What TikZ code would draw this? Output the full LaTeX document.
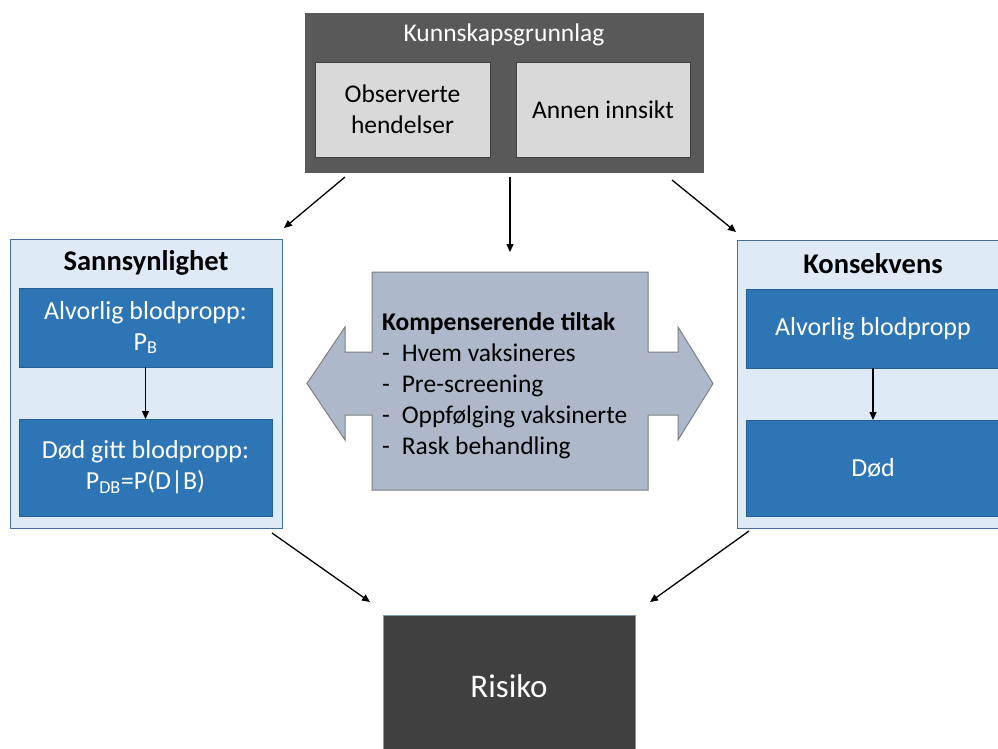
\documentclass[tikz,border=0pt]{standalone}
\usepackage{fontspec}
\setmainfont{Carlito}
\usetikzlibrary{arrows.meta}
\definecolor{darkbox}{HTML}{595959}
\definecolor{risikobox}{HTML}{404040}
\definecolor{lightgray}{HTML}{D9D9D9}
\definecolor{panelblue}{HTML}{DEEBF7}
\definecolor{panelborder}{HTML}{41719C}
\definecolor{bluebox}{HTML}{2E75B6}
\definecolor{centerfill}{HTML}{ADB9CA}
\definecolor{centerborder}{HTML}{7F7F7F}
\tikzset{
  every node/.style={inner sep=0pt, outer sep=0pt},
  basefont/.style={font=\fontsize{25.5}{31}\selectfont},
  outerbox/.style={fill=darkbox, draw=none},
  graybox/.style={fill=lightgray, draw=risikobox, line width=0.8pt, basefont, align=center},
  panel/.style={fill=panelblue, draw=panelborder, line width=0.9pt},
  bluefill/.style={fill=bluebox, draw=bluebox!80!black, line width=0.5pt, text=white, font=\fontsize{26}{31}\selectfont, align=center},
  titletext/.style={font=\fontsize{28.5}{34}\selectfont\bfseries},
  conn/.style={-{Triangle[length=8pt,width=7pt]}, line width=1.3pt, black},
}
\begin{document}
\begin{tikzpicture}[x=1pt,y=-1pt]
\clip (0,0) rectangle (998,749);
\fill[white] (0,0) rectangle (998,749);

% top knowledge box
\node[outerbox, minimum width=399pt, minimum height=160pt] (top) at (504.5,93) {};
\node[basefont, text=white] (toptitle) at (504,35) {Kunnskapsgrunnlag};
\node[graybox, minimum width=175pt, minimum height=95pt] (obs) at (402.5,109.5) {Observerte\\hendelser};
\node[graybox, minimum width=174pt, minimum height=95pt] (annen) at (603,109.5) {Annen innsikt};

% left panel
\node[panel, minimum width=272pt, minimum height=289pt] (left) at (146,383.5) {};
\node[titletext] (lefttitle) at (146,263) {Sannsynlighet};
\node[bluefill, minimum width=253pt, minimum height=79pt] (lb1) at (145.5,327.5) {Alvorlig blodpropp:\\P\textsubscript{B}};
\node[bluefill, minimum width=253pt, minimum height=97pt] (lb2) at (145.5,467.5) {Død gitt blodpropp:\\P\textsubscript{DB}=P(D|B)};
\draw[conn] (lb1.south) -- (lb2.north);

% right panel
\node[panel, minimum width=272pt, minimum height=288pt] (right) at (873,384) {};
\node[titletext] (righttitle) at (873,264) {Konsekvens};
\node[bluefill, minimum width=254pt, minimum height=79pt] (rb1) at (873,328.5) {Alvorlig blodpropp};
\node[bluefill, minimum width=254pt, minimum height=96pt] (rb2) at (873,468) {Død};
\draw[conn] (rb1.south) -- (rb2.north);

% center double arrow shape
\draw[fill=centerfill, draw=centerborder, line width=1pt]
  (372,272) -- (648,272) -- (648,352) -- (678,352) -- (678,327) -- (713,383.5)
  -- (678,440) -- (678,415) -- (648,415) -- (648,490) -- (372,490) -- (372,415)
  -- (345,415) -- (345,440) -- (307,383.5) -- (345,327) -- (345,352) -- (372,352) -- cycle;
\node[minimum width=276pt, minimum height=218pt] (center) at (510,381) {};
\node[basefont, anchor=north west, align=left] (tiltak) at (382,313)
  {\textbf{Kompenserende tiltak}\\
   -\hspace{12pt}Hvem vaksineres\\
   -\hspace{12pt}Pre-screening\\
   -\hspace{12pt}Oppfølging vaksinerte\\
   -\hspace{12pt}Rask behandling};

% risiko
\node[fill=risikobox, draw=panelborder!70, line width=0.6pt, minimum width=252pt, minimum height=142pt] (risiko) at (509,686) {};
\node[text=white, font=\fontsize{33}{40}\selectfont] (risikotext) at (509,686) {Risiko};

% connectors
\coordinate (s1) at (345,177);
\coordinate (e1) at (284,228);
\coordinate (s2) at (510,177);
\coordinate (e2) at (510,252);
\coordinate (s3) at (672,180);
\coordinate (e3) at (736,232);
\coordinate (s4) at (272,533);
\coordinate (e4) at (370,602);
\coordinate (s5) at (749,531);
\coordinate (e5) at (650,602);
\draw[conn] (s1) -- (e1);
\draw[conn] (s2) -- (e2);
\draw[conn] (s3) -- (e3);
\draw[conn] (s4) -- (e4);
\draw[conn] (s5) -- (e5);
\end{tikzpicture}
\end{document}
